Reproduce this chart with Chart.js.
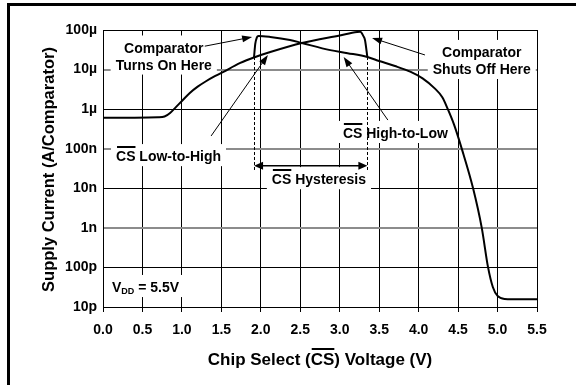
<!DOCTYPE html>
<html>
<head>
<meta charset="utf-8">
<script src="https://cdn.jsdelivr.net/npm/chart.js@4"></script>
<style>
  html, body { margin: 0; padding: 0; background: #fff; }
  #wrap { width: 576px; height: 385px; }
</style>
</head>
<body>
<div id="wrap"><canvas id="chart-corriente" width="576" height="385"></canvas></div>
<script>
'use strict';

// Datos (V en voltios, I en amperios)
// Barrido CS bajo->alto: sube y cae de golpe en ~3.35 V
const lowToHighV = [0.00, 0.40, 0.70, 0.78, 0.85, 0.93, 1.00, 1.10, 1.20, 1.30, 1.40, 1.50, 1.74, 1.93, 2.12, 2.52, 3.00, 3.22, 3.26, 3.30, 3.32, 3.35];
const lowToHighI = [6.1e-7, 6.1e-7, 6.2e-7, 6.5e-7, 8.0e-7, 1.16e-6, 1.6e-6, 2.56e-6, 3.7e-6, 5.0e-6, 6.5e-6, 8.2e-6, 1.47e-5, 2.08e-5, 2.78e-5, 4.7e-5, 7.3e-5, 8.9e-5, 9.0e-5, 7.0e-5, 5.6e-5, 2.08e-5];

// Barrido CS alto->bajo: salto en ~1.91 V, luego cae hasta ~15p
const highToLowV = [1.914, 1.93, 1.95, 1.97, 2.12, 2.37, 2.52, 2.88, 3.10, 3.35, 3.50, 3.70, 3.90, 4.05, 4.20, 4.30, 4.37, 4.45, 4.55, 4.69, 4.80, 4.88, 4.94, 5.00, 5.09, 5.30, 5.50];
const highToLowI = [2.08e-5, 4.5e-5, 6.5e-5, 7.1e-5, 6.7e-5, 5.6e-5, 4.7e-5, 3.1e-5, 2.6e-5, 2.08e-5, 1.65e-5, 1.23e-5, 8.7e-6, 6.0e-6, 3.4e-6, 2.0e-6, 1.0e-6, 4.0e-7, 9.5e-8, 1.0e-8, 1.0e-9, 1.0e-10, 3.2e-11, 1.9e-11, 1.6e-11, 1.57e-11, 1.57e-11];

// Umbrales de histéresis
const hysteresisV = [1.914, 3.35];
const hysteresisTopI = 2.08e-5;

const xTickValues = [0, 0.5, 1, 1.5, 2, 2.5, 3, 3.5, 4, 4.5, 5, 5.5];
const xTickLabels = ['0.0', '0.5', '1.0', '1.5', '2.0', '2.5', '3.0', '3.5', '4.0', '4.5', '5.0', '5.5'];
const yTickValues = [1e-11, 1e-10, 1e-9, 1e-8, 1e-7, 1e-6, 1e-5, 1e-4];
const yTickLabels = ['10p', '100p', '1n', '10n', '100n', '1µ', '10µ', '100µ'];
const yGridGris = [1e-9, 1e-7, 1e-5];

const FONT = '"Liberation Sans", Arial, Helvetica, sans-serif';

// Textos y flechas, anclados en coordenadas de datos
const notas = [
  { lines: [[{ t: 'Comparator' }], [{ t: 'Turns On Here' }]], v: 0.77, i: 2.2e-5, align: 'center' },
  { lines: [[{ t: 'Comparator' }], [{ t: 'Shuts Off Here' }]], v: 4.80, i: 1.7e-5, align: 'center' },
  { lines: [[{ t: 'CS', over: true }, { t: ' Low-to-High' }]], v: 0.165, i: 6.5e-8, align: 'left' },
  { lines: [[{ t: 'CS', over: true }, { t: ' High-to-Low' }]], v: 3.04, i: 2.5e-7, align: 'left' },
  { lines: [[{ t: 'CS', over: true }, { t: ' Hysteresis' }]], v: 2.14, i: 1.7e-8, align: 'left' },
  { lines: [[{ t: 'V' }, { t: 'DD', sub: true }, { t: ' = 5.5V' }]], v: 0.114, i: 3.2e-11, align: 'left' }
];

const flechas = [
  { from: [1.29, 3.9e-5], to: [1.89, 6.65e-5] },
  { from: [4.08, 2.34e-5], to: [3.41, 6.3e-5] },
  { from: [1.37, 2.1e-7], to: [2.09, 2.34e-5] },
  { from: [3.61, 5.3e-7], to: [3.05, 2.08e-5] }
];
const hysteresisArrowI = 3.7e-8;
const hysteresisBottomI = 2.9e-8;

function setFont(c, size) {
  c.font = 'bold ' + size + 'px ' + FONT;
}

function partsWidth(c, parts, size) {
  let w = 0;
  parts.forEach(function (p) {
    setFont(c, p.sub ? Math.round(size * 0.62) : size);
    w += c.measureText(p.t).width;
  });
  return w;
}

function drawParts(c, parts, x, baseline, size) {
  let cx = x;
  parts.forEach(function (p) {
    const fs = p.sub ? Math.round(size * 0.62) : size;
    setFont(c, fs);
    c.fillText(p.t, cx, baseline + (p.sub ? 2 : 0));
    const w = c.measureText(p.t).width;
    if (p.over) {
      c.fillRect(cx + 1, Math.round(baseline - size * 0.72 - 5), w - 1, 2);
    }
    cx += w;
  });
}

function arrowHead(c, x1, y1, x2, y2, len, half) {
  const a = Math.atan2(y2 - y1, x2 - x1);
  const bx = x2 - len * Math.cos(a);
  const by = y2 - len * Math.sin(a);
  c.beginPath();
  c.moveTo(x2, y2);
  c.lineTo(bx + half * Math.sin(a), by - half * Math.cos(a));
  c.lineTo(bx - half * Math.sin(a), by + half * Math.cos(a));
  c.closePath();
  c.fill();
}

function arrow(c, x1, y1, x2, y2) {
  const a = Math.atan2(y2 - y1, x2 - x1);
  c.beginPath();
  c.moveTo(x1, y1);
  c.lineTo(x2 - 8 * Math.cos(a), y2 - 8 * Math.sin(a));
  c.stroke();
  arrowHead(c, x1, y1, x2, y2, 10, 3.5);
}

const pluginNotas = {
  id: 'notas',
  beforeDraw: function (chart) {
    const c = chart.ctx;
    c.save();
    c.fillStyle = '#fff';
    c.fillRect(0, 0, chart.width, chart.height);
    // marco (solo se ve arriba y a la izquierda)
    c.fillStyle = '#000';
    c.fillRect(7, 3, chart.width - 7, 3);
    c.fillRect(7, 3, 3, chart.height - 3);
    c.restore();
  },
  beforeDatasetsDraw: function (chart) {
    const c = chart.ctx;
    const sx = chart.scales.x;
    const sy = chart.scales.y;
    const area = chart.chartArea;
    const size = 14;
    const capH = size * 0.72;
    const lineH = 17;

    c.save();

    // cajas blancas + textos
    const cajas = notas.map(function (n) {
      const ax = sx.getPixelForValue(n.v);
      const ay = sy.getPixelForValue(n.i);
      const widths = n.lines.map(function (l) { return partsWidth(c, l, size); });
      const wMax = Math.max.apply(null, widths);
      const hTot = (n.lines.length - 1) * lineH;
      const left = n.align === 'center' ? ax - wMax / 2 : ax;
      return { n: n, ax: ax, ay: ay, widths: widths, wMax: wMax, hTot: hTot, left: left };
    });

    c.fillStyle = '#fff';
    cajas.forEach(function (b) {
      const top = b.ay - b.hTot / 2 - capH / 2 - 7;
      const bottom = b.ay + b.hTot / 2 + capH / 2 + 5;
      const l = Math.max(area.left + 1, b.left - 5);
      c.fillRect(l, top, b.left + b.wMax + 5 - l, bottom - top);
    });

    // líneas discontinuas de histéresis
    c.strokeStyle = '#000';
    c.lineWidth = 1;
    c.setLineDash([3, 2]);
    hysteresisV.forEach(function (v) {
      const x = Math.round(sx.getPixelForValue(v)) + 0.5;
      c.beginPath();
      c.moveTo(x, sy.getPixelForValue(hysteresisTopI));
      c.lineTo(x, sy.getPixelForValue(hysteresisBottomI));
      c.stroke();
    });
    c.setLineDash([]);

    // flecha doble de histéresis
    c.fillStyle = '#000';
    c.lineWidth = 1.5;
    const hy = sy.getPixelForValue(hysteresisArrowI);
    const hx1 = sx.getPixelForValue(hysteresisV[0]);
    const hx2 = sx.getPixelForValue(hysteresisV[1]);
    c.beginPath();
    c.moveTo(hx1 + 6, hy);
    c.lineTo(hx2 - 6, hy);
    c.stroke();
    arrowHead(c, hx2, hy, hx1, hy, 9, 4);
    arrowHead(c, hx1, hy, hx2, hy, 9, 4);

    // flechas de los textos
    c.lineWidth = 1;
    flechas.forEach(function (f) {
      arrow(c,
        sx.getPixelForValue(f.from[0]), sy.getPixelForValue(f.from[1]),
        sx.getPixelForValue(f.to[0]), sy.getPixelForValue(f.to[1]));
    });

    // textos
    c.fillStyle = '#000';
    c.textBaseline = 'alphabetic';
    c.textAlign = 'left';
    cajas.forEach(function (b) {
      b.n.lines.forEach(function (l, k) {
        const base = b.ay - b.hTot / 2 + k * lineH + capH / 2;
        const x = b.n.align === 'center' ? b.ax - b.widths[k] / 2 : b.left;
        drawParts(c, l, x, base, size);
      });
    });

    // títulos de ejes
    const xSize = 17;
    const xTitulo = [{ t: 'Chip Select (' }, { t: 'CS', over: true }, { t: ') Voltage (V)' }];
    const wx = partsWidth(c, xTitulo, xSize);
    drawParts(c, xTitulo, (area.left + area.right) / 2 - wx / 2, 359 + xSize * 0.36, xSize);

    const ySize = 16.5;
    c.translate(48, (area.top + area.bottom) / 2 + 1);
    c.rotate(-Math.PI / 2);
    setFont(c, ySize);
    c.textAlign = 'center';
    c.fillText('Supply Current (A/Comparator)', 0, ySize * 0.36);

    c.restore();
  }
};

function armarPuntos(vs, is) {
  return vs.map(function (v, k) {
    return { x: v, y: is[k] };
  });
}

const ctx = document.getElementById('chart-corriente').getContext('2d');

const chartCorriente = new Chart(ctx, {
  type: 'line',
  data: {
    datasets: [
      {
        label: 'CS Low-to-High',
        data: armarPuntos(lowToHighV, lowToHighI),
        borderColor: '#000',
        borderWidth: 2,
        pointRadius: 0,
        cubicInterpolationMode: 'monotone',
        fill: false
      },
      {
        label: 'CS High-to-Low',
        data: armarPuntos(highToLowV, highToLowI),
        borderColor: '#000',
        borderWidth: 2,
        pointRadius: 0,
        cubicInterpolationMode: 'monotone',
        fill: false
      }
    ]
  },
  options: {
    responsive: false,
    animation: false,
    layout: { padding: { top: 30, right: 39, left: 0, bottom: 0 } },
    plugins: {
      legend: { display: false },
      tooltip: { enabled: false }
    },
    scales: {
      x: {
        type: 'linear',
        min: 0,
        max: 5.5,
        afterBuildTicks: function (scale) {
          scale.ticks = xTickValues.map(function (v) { return { value: v }; });
        },
        afterFit: function (scale) {
          scale.height = 78;
        },
        ticks: {
          autoSkip: false,
          maxRotation: 0,
          padding: 10,
          color: '#000',
          font: { family: FONT, size: 14, weight: 'bold' },
          callback: function (value, index) {
            return xTickLabels[index];
          }
        },
        grid: { color: '#000', lineWidth: 1, tickLength: 5 },
        border: { color: '#000', width: 1 }
      },
      y: {
        type: 'logarithmic',
        min: 1e-11,
        max: 1e-4,
        afterBuildTicks: function (scale) {
          scale.ticks = yTickValues.map(function (v) { return { value: v }; });
        },
        afterFit: function (scale) {
          scale.width = 103;
        },
        ticks: {
          autoSkip: false,
          padding: 6,
          color: '#000',
          font: { family: FONT, size: 14, weight: 'bold' },
          callback: function (value, index) {
            return yTickLabels[index];
          }
        },
        grid: {
          drawTicks: false,
          color: function (c) {
            return c.tick && yGridGris.indexOf(c.tick.value) >= 0 ? '#8c8c8c' : '#000';
          },
          lineWidth: function (c) {
            return c.tick && yGridGris.indexOf(c.tick.value) >= 0 ? 2 : 1;
          }
        },
        border: { color: '#000', width: 1 }
      }
    }
  },
  plugins: [pluginNotas]
});
</script>
</body>
</html>
